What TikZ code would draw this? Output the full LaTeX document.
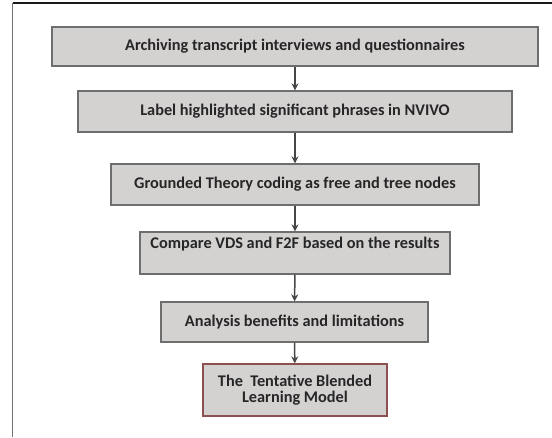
\documentclass[tikz,border=0pt]{standalone}
\usepackage{fontspec}
\setmainfont{Carlito}
\usetikzlibrary{shadows,arrows.meta}
\definecolor{boxfill}{RGB}{212,209,209}
\definecolor{boxline}{RGB}{110,110,110}
\definecolor{redline}{RGB}{140,80,80}
\definecolor{arrowcol}{RGB}{70,70,70}
\begin{document}
\begin{tikzpicture}[x=1pt,y=-1pt,
  stepbox/.style={draw=boxline, line width=1.3pt, fill=boxfill, inner sep=0pt,
    font=\bfseries\fontsize{16.3}{17}\selectfont, text=black!85,
    drop shadow={shadow xshift=1.2pt, shadow yshift=-1.2pt, fill=black!25, opacity=0.6}},
  flow/.style={draw=arrowcol, line width=1.5pt, -{Stealth[length=7pt,width=7pt]}},
  frame/.style={line width=1.2pt}]
\useasboundingbox (0,0) rectangle (552,437);
\draw[frame, draw=black!90] (12.5,3) -- (552,3);
\draw[frame, draw=black!55] (12.5,3) -- (12.5,437);
\node[stepbox, minimum width=486pt, minimum height=39pt] (b1) at (295,46.5) {Archiving transcript interviews and questionnaires};
\node[stepbox, minimum width=434pt, minimum height=41pt] (b2) at (295,111.5) {Label highlighted significant phrases in NVIVO};
\node[stepbox, minimum width=368pt, minimum height=41pt] (b3) at (295,184.5) {Grounded Theory coding as free and tree nodes};
\node[stepbox, minimum width=310pt, minimum height=42pt, text depth=20pt] (b4) at (295,253) {Compare VDS and F2F based on the results};
\node[stepbox, minimum width=267pt, minimum height=40pt] (b5) at (294.5,322) {Analysis benefits and limitations};
\node[stepbox, draw=redline, minimum width=184pt, minimum height=52pt, align=center, font=\bfseries\fontsize{16.3}{16.5}\selectfont] (b6) at (295,390) {The\ \ Tentative Blended\\Learning Model};
\draw[flow] (b1) -- (b2);
\draw[flow] (b2) -- (b3);
\draw[flow] (b3) -- (b4);
\draw[flow] (b4) -- (b5);
\draw[flow] (b5) -- (b6);
\end{tikzpicture}
\end{document}
